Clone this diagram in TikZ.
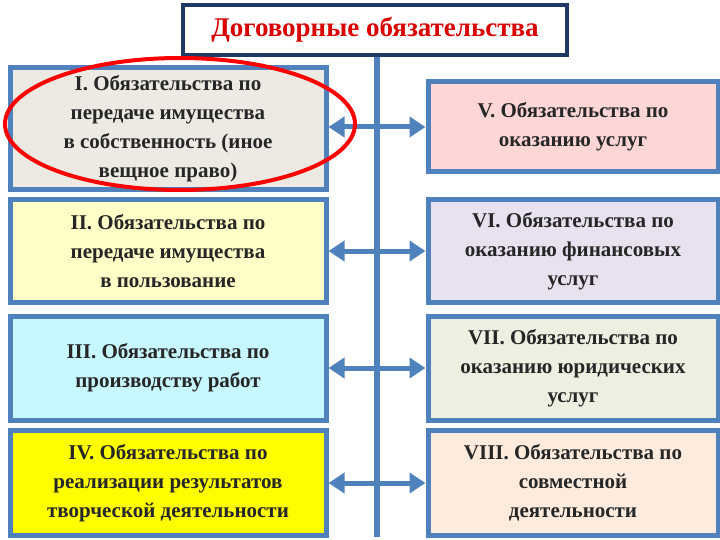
\documentclass[tikz,border=0pt]{standalone}
\usepackage{fontspec}
\setmainfont{Liberation Serif}
\usetikzlibrary{arrows.meta}
\definecolor{bb}{HTML}{4F81BD}
\definecolor{navy}{HTML}{1F3864}
\tikzset{x=1pt,y=-1pt,
box/.style={draw=bb,line width=5pt,align=center,inner sep=0pt,font=\bfseries\fontsize{21}{29}\selectfont,text=black!85},
conn/.style={bb,line width=5pt,{Triangle[length=16pt,width=20pt]}-{Triangle[length=16pt,width=20pt]}}}
\begin{document}
\begin{tikzpicture}
\useasboundingbox (0,0) rectangle (720,540);
\fill[white] (0,0) rectangle (720,540);
\draw[bb,line width=6pt] (377,55) -- (377,537);
\node[draw=navy,line width=4pt,minimum width=384pt,minimum height=50pt,font=\bfseries\fontsize{27}{30}\selectfont,text=red!85!black,fill=white] (t) at (375,30) {Договорные обязательства};
\node[box,fill={rgb,255:red,236;green,234;blue,226},minimum width=316pt,minimum height=122pt] (l1) at (168,129) {I. Обязательства по\\передаче имущества\\в собственность (иное\\вещное право)};
\node[box,fill={rgb,255:red,255;green,255;blue,200},minimum width=316pt,minimum height=102pt] (l2) at (168,251) {II. Обязательства по\\передаче имущества\\в пользование};
\node[box,fill={rgb,255:red,200;green,248;blue,255},minimum width=316pt,minimum height=104pt] (l3) at (168,368) {III. Обязательства по\\производству работ};
\node[box,fill={rgb,255:red,255;green,255;blue,0},minimum width=316pt,minimum height=105pt] (l4) at (168,483) {IV. Обязательства по\\реализации результатов\\творческой деятельности};
\node[box,fill={rgb,255:red,255;green,214;blue,214},minimum width=290pt,minimum height=90pt] (r1) at (573,127) {V. Обязательства по\\оказанию услуг};
\node[box,fill={rgb,255:red,232;green,226;blue,240},minimum width=290pt,minimum height=102pt] (r2) at (573,251) {VI. Обязательства по\\оказанию финансовых\\услуг};
\node[box,fill={rgb,255:red,236;green,240;blue,224},minimum width=290pt,minimum height=104pt] (r3) at (573,368) {VII. Обязательства по\\оказанию юридических\\услуг};
\node[box,fill={rgb,255:red,253;green,236;blue,222},minimum width=290pt,minimum height=105pt] (r4) at (573,483) {VIII. Обязательства по\\совместной\\деятельности};
\draw[conn] (l1.east|-0,127) -- (r1.west);
\draw[conn] (l2.east) -- (r2.west);
\draw[conn] (l3.east) -- (r3.west);
\draw[conn] (l4.east) -- (r4.west);
\draw[red,line width=4pt] (180,124) ellipse (175pt and 66pt);
\end{tikzpicture}
\end{document}
